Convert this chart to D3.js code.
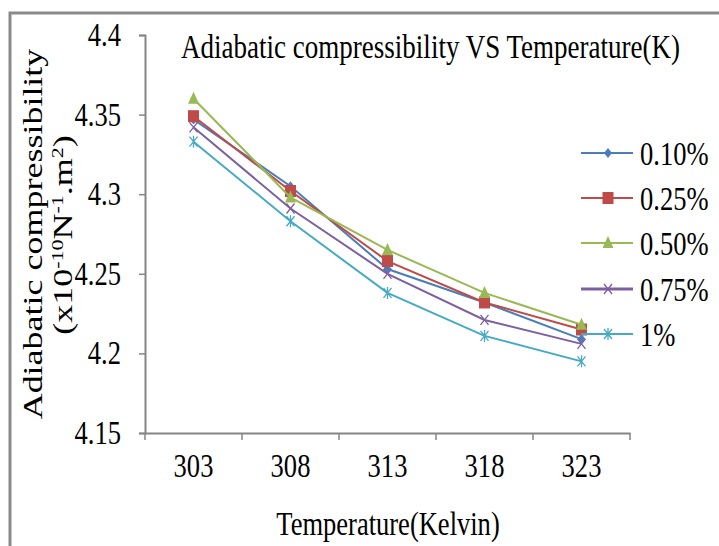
<!DOCTYPE html>
<html><head><meta charset="utf-8">
<script src="https://cdn.jsdelivr.net/npm/d3@7"></script>
<style>html,body{margin:0;padding:0;background:#fff;}svg{display:block;}</style>
</head><body>
<script>
const categories = ["303", "308", "313", "318", "323"];
const seriesNames = ["0.10%", "0.25%", "0.50%", "0.75%", "1%"];
const s010 = [4.347, 4.305, 4.253, 4.232, 4.209];
const s025 = [4.349, 4.302, 4.258, 4.232, 4.215];
const s050 = [4.360, 4.298, 4.265, 4.238, 4.218];
const s075 = [4.342, 4.291, 4.250, 4.221, 4.206];
const s100 = [4.333, 4.283, 4.238, 4.211, 4.195];
const yTicks = [4.15, 4.2, 4.25, 4.3, 4.35, 4.4];
const colors = ["#4a7ebb", "#be4b48", "#98b954", "#7d60a0", "#46aac5"];
const markers = ["diamond", "square", "triangle", "x", "star"];
const allSeries = [s010, s025, s050, s075, s100];

const W = 719, H = 546, SX = 0.78;
const FONT = "Liberation Serif, Times New Roman, serif";
const svg = d3.select("body").append("svg").attr("width", W).attr("height", H);

// outer frame (top and left visible)
svg.append("path").attr("d", `M10,546 L10,13 L719,13`).attr("fill", "none")
  .attr("stroke", "#8a8a8a").attr("stroke-width", 3);

const x0 = 145, x1 = 630, yTop = 35, yBot = 433;
const x = d3.scaleBand().domain(categories).range([x0, x1]);
const y = d3.scaleLinear().domain([4.15, 4.4]).range([yBot, yTop]);

function stext(px, py, str, size, anchor, sx) {
  const g = svg.append("g").attr("transform", `translate(${px},${py}) scale(${sx || SX},1)`);
  return g.append("text").attr("font-family", FONT).attr("font-size", size)
    .attr("text-anchor", anchor || "start").attr("fill", "#000").text(str);
}

// axes
const axisColor = "#868686";
const yAxis = svg.append("g").attr("transform", `translate(${x0},0)`)
  .call(d3.axisLeft(y).tickValues(yTicks).tickSize(6).tickFormat(""));
const xAxis = svg.append("g").attr("transform", `translate(0,${yBot})`)
  .call(d3.axisBottom(x).tickSize(0).tickFormat(""));
[yAxis, xAxis].forEach(a => {
  a.select(".domain").attr("stroke", axisColor).attr("stroke-width", 2);
  a.selectAll(".tick line").attr("stroke", axisColor).attr("stroke-width", 1.5);
});
// x tick marks at band boundaries
const bounds = categories.map(c => x(c)).concat([x1]);
svg.append("g").selectAll("line").data(bounds).join("line")
  .attr("x1", d => d).attr("x2", d => d).attr("y1", yBot).attr("y2", yBot + 7)
  .attr("stroke", axisColor).attr("stroke-width", 1.5);

// tick labels
yTicks.forEach(v => stext(121, y(v) + 11, String(v), 34, "end"));
categories.forEach(c => stext(x(c) + x.bandwidth() / 2, 477, c, 34, "middle"));

// titles
stext(181, 58, "Adiabatic compressibility VS Temperature(K)", 34, "start", 0.795);
stext(388, 535, "Temperature(Kelvin)", 34, "middle");

// y-axis title (rotated, two lines)
const yl1 = svg.append("g").attr("transform", `translate(42,234) scale(${SX},1) rotate(-90)`);
yl1.append("text").attr("font-family", FONT).attr("font-size", 36).attr("text-anchor", "middle")
  .text("Adiabatic compressibility");
const yl2 = svg.append("g").attr("transform", `translate(72,235) scale(${SX},1) rotate(-90)`)
  .append("text").attr("font-family", FONT).attr("font-size", 36).attr("text-anchor", "middle");
yl2.append("tspan").text("(x10");
yl2.append("tspan").attr("font-size", 22).attr("dy", -12).text("-10");
yl2.append("tspan").attr("dy", 12).text("N");
yl2.append("tspan").attr("font-size", 22).attr("dy", -12).text("-1");
yl2.append("tspan").attr("dy", 12).text(".m");
yl2.append("tspan").attr("font-size", 22).attr("dy", -12).text("2");
yl2.append("tspan").attr("dy", 12).text(")");

// markers
function drawMarker(g, type, cx, cy, color) {
  if (type === "diamond") {
    g.append("path").attr("d", `M${cx},${cy-5} L${cx+4},${cy} L${cx},${cy+5} L${cx-4},${cy} Z`).attr("fill", color);
  } else if (type === "square") {
    g.append("rect").attr("x", cx - 5.5).attr("y", cy - 6).attr("width", 11).attr("height", 12).attr("fill", color);
  } else if (type === "triangle") {
    g.append("path").attr("d", `M${cx},${cy-7} L${cx+5.5},${cy+5} L${cx-5.5},${cy+5} Z`).attr("fill", color);
  } else if (type === "x") {
    g.append("path").attr("d", `M${cx-4},${cy-5} L${cx+4},${cy+5} M${cx+4},${cy-5} L${cx-4},${cy+5}`)
      .attr("stroke", color).attr("stroke-width", 1.3).attr("fill", "none");
  } else if (type === "star") {
    g.append("path").attr("d", `M${cx-4},${cy-5} L${cx+4},${cy+5} M${cx+4},${cy-5} L${cx-4},${cy+5} M${cx},${cy-6} L${cx},${cy+6}`)
      .attr("stroke", color).attr("stroke-width", 1.3).attr("fill", "none");
  }
}

const line = d3.line().x((d, i) => x(categories[i]) + x.bandwidth() / 2).y(d => y(d));
allSeries.forEach((vals, si) => {
  const g = svg.append("g");
  g.append("path").datum(vals).attr("d", line).attr("fill", "none")
    .attr("stroke", colors[si]).attr("stroke-width", 2);
  vals.forEach((v, i) => drawMarker(g, markers[si], x(categories[i]) + x.bandwidth() / 2, y(v), colors[si]));
});

// legend
const legY = [153, 198, 243, 289, 334];
seriesNames.forEach((name, si) => {
  const g = svg.append("g");
  const ly = legY[si];
  g.append("line").attr("x1", 581).attr("x2", 633).attr("y1", ly).attr("y2", ly)
    .attr("stroke", colors[si]).attr("stroke-width", si === 3 ? 3 : 2);
  drawMarker(g, markers[si], 608, ly, colors[si]);
  stext(640, ly + 12, name, 34, "start");
});
</script>
</body></html>
